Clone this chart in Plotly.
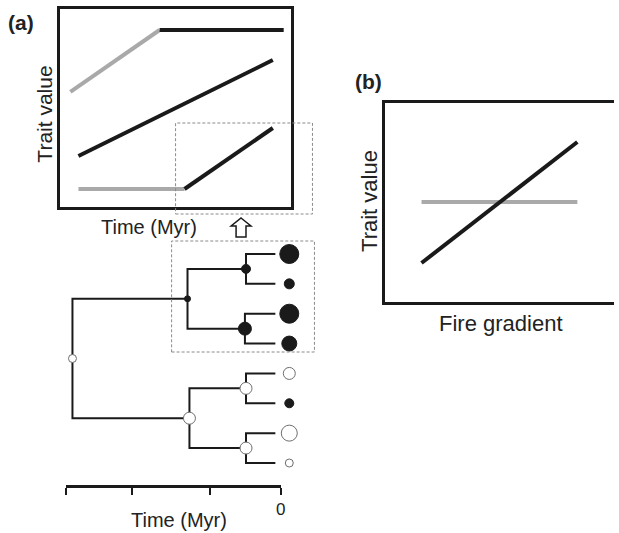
import plotly.graph_objects as go

W, H = 619, 533
FONT = "Liberation Sans, Arial, Helvetica, sans-serif"
BLACK = "#1a1a1a"
GRAY = "#a9a9a9"

# ---------------- data: panel (a) trait trajectories (time, trait value) ----------------
a_gray_upper_time = [0.47, 4.33]
a_gray_upper_trait = [5.81, 8.94]
a_black_upper_time = [4.33, 9.70]
a_black_upper_trait = [8.94, 8.94]
a_black_mid_time = [0.82, 9.23]
a_black_mid_trait = [2.58, 7.42]
a_gray_lower_time = [0.82, 5.41]
a_gray_lower_trait = [0.91, 0.91]
a_black_lower_time = [5.41, 9.23]
a_black_lower_trait = [0.91, 3.99]

# ---------------- data: panel (b) trait vs fire gradient ----------------
b_fire = [1.6, 8.4]
b_black_trait = [1.96, 8.04]
b_gray_trait = [5.03, 5.03]

# ---------------- data: phylogeny ----------------
node_names = ["root", "U", "L", "S1", "S2", "S3", "S4"]
node_parent = [None, "root", "root", "U", "U", "L", "L"]
node_time = [-9.72, -4.35, -4.26, -1.62, -1.67, -1.62, -1.62]
node_trait = [8, 6, 12, 9, 13, 12, 12]
node_state = [0, 1, 0, 1, 1, 0, 0]

tip_names = ["t1", "t2", "t3", "t4", "t5", "t6", "t7", "t8"]
tip_parent = ["S1", "S1", "S2", "S2", "S3", "S3", "S4", "S4"]
tip_rank = [8, 7, 6, 5, 4, 3, 2, 1]
tip_trait = [19, 10, 19, 15, 12, 9, 16, 8]
tip_state = [1, 1, 1, 1, 0, 1, 0, 0]
tip_time = -0.25
tip_marker_time = 0.40

time_ticks = [-10, -6.94, -3.29, 0]
time_tick_labels = ["", "", "", "0"]


def X(px):
    return px / W


def Y(py):
    return 1 - py / H


fig = go.Figure()

# ---- panel (a) lines ----
for t, v, c in [
    (a_gray_upper_time, a_gray_upper_trait, GRAY),
    (a_black_upper_time, a_black_upper_trait, BLACK),
    (a_black_mid_time, a_black_mid_trait, BLACK),
    (a_gray_lower_time, a_gray_lower_trait, GRAY),
    (a_black_lower_time, a_black_lower_trait, BLACK),
]:
    fig.add_trace(go.Scatter(x=t, y=v, mode="lines", line=dict(color=c, width=4),
                             xaxis="x", yaxis="y", showlegend=False, hoverinfo="skip"))

# ---- tree ----
pos = {}
for n, t in zip(tip_names, tip_rank):
    pos[n] = [tip_time, t]
ntime = dict(zip(node_names, node_time))
children = {n: [] for n in node_names}
for n, p in zip(tip_names, tip_parent):
    children[p].append(n)
for n, p in zip(node_names, node_parent):
    if p is not None:
        children[p].append(n)


def ypos(n):
    if n in pos:
        return pos[n][1]
    ys = [ypos(c) for c in children[n]]
    pos[n] = [ntime[n], sum(ys) / len(ys)]
    return pos[n][1]


ypos("root")

ex, ey = [], []
for child, par in list(zip(tip_names, tip_parent)) + [(n, p) for n, p in zip(node_names, node_parent) if p]:
    px_, py_ = pos[par]
    cx, cy = pos[child]
    ex += [px_, px_, cx, None]
    ey += [py_, cy, cy, None]
fig.add_trace(go.Scatter(x=ex, y=ey, mode="lines", line=dict(color=BLACK, width=2),
                         xaxis="x2", yaxis="y2", showlegend=False, hoverinfo="skip"))


def mk(states, sizes):
    return dict(
        size=sizes, opacity=1,
        color=[BLACK if s else "white" for s in states],
        line=dict(color=[BLACK if s else "#6e6e6e" for s in states], width=1),
    )


fig.add_trace(go.Scatter(x=[pos[n][0] for n in node_names], y=[pos[n][1] for n in node_names],
                         mode="markers", marker=mk(node_state, node_trait),
                         xaxis="x2", yaxis="y2", showlegend=False, hoverinfo="skip"))
fig.add_trace(go.Scatter(x=[tip_marker_time] * len(tip_names), y=tip_rank,
                         mode="markers", marker=mk(tip_state, tip_trait),
                         xaxis="x2", yaxis="y2", showlegend=False, hoverinfo="skip"))

# time scale bar (own axis sharing the tree's vertical axis)
fig.add_trace(go.Scatter(x=[], y=[], mode="markers", xaxis="x4", yaxis="y2",
                         showlegend=False, hoverinfo="skip"))

# ---- panel (b) ----
fig.add_trace(go.Scatter(x=b_fire, y=b_gray_trait, mode="lines", line=dict(color=GRAY, width=4),
                         xaxis="x3", yaxis="y3", showlegend=False, hoverinfo="skip"))
fig.add_trace(go.Scatter(x=b_fire, y=b_black_trait, mode="lines", line=dict(color=BLACK, width=4),
                         xaxis="x3", yaxis="y3", showlegend=False, hoverinfo="skip"))

box = dict(showline=True, linecolor=BLACK, linewidth=3, showticklabels=False, ticks="",
           showgrid=False, zeroline=False, fixedrange=True)

# tree axis: 0 Myr at px 283, -10 Myr at px 67 -> 21.6 px per Myr; extended to px 305 for tip symbols
tree_right_px = 305
tree_range_right = (tree_right_px - 283) / 21.6

fig.update_layout(
    width=W, height=H, margin=dict(l=0, r=0, t=0, b=0),
    paper_bgcolor="white", plot_bgcolor="rgba(0,0,0,0)",
    font=dict(family=FONT, color="#222222"),
    xaxis=dict(domain=[X(60), X(293)], range=[0, 10], mirror=True, anchor="y", **box),
    yaxis=dict(domain=[Y(207), Y(9)], range=[0, 10], mirror=True, anchor="x", **box),
    xaxis2=dict(domain=[X(67), X(tree_right_px)], range=[-10, tree_range_right], anchor="y2",
                visible=False, fixedrange=True),
    yaxis2=dict(domain=[Y(485), Y(240)], range=[0.263, 8.469], anchor="x2", visible=False,
                fixedrange=True),
    xaxis4=dict(domain=[X(67), X(283)], range=[-10, 0], anchor="y2", showline=True,
                linecolor=BLACK, linewidth=3, ticks="outside", ticklen=7, tickwidth=1.5,
                tickcolor=BLACK, tickvals=time_ticks, ticktext=time_tick_labels,
                tickfont=dict(size=17, family=FONT, color="#222222"),
                showgrid=False, zeroline=False, fixedrange=True),
    xaxis3=dict(domain=[X(388), 1], range=[0, 10], mirror=True, anchor="y3", **box),
    yaxis3=dict(domain=[Y(302), Y(103)], range=[0, 10], mirror=False, anchor="x3", **box),
)

ann = [
    dict(text="<b>(a)</b>", x=X(21), y=Y(22), size=21),
    dict(text="<b>(b)</b>", x=X(372), y=Y(81), size=21),
    dict(text="Trait value", x=X(44), y=Y(114), size=21, angle=-90),
    dict(text="Time (Myr)", x=X(150), y=Y(227), size=20),
    dict(text="Time (Myr)", x=X(180), y=Y(520), size=20),
    dict(text="Trait value", x=X(372), y=Y(201), size=22, angle=-90),
    dict(text="Fire gradient", x=X(505), y=Y(323), size=22),
]
for a in ann:
    fig.add_annotation(text=a["text"], x=a["x"], y=a["y"], xref="paper", yref="paper",
                       showarrow=False, textangle=a.get("angle", 0),
                       font=dict(size=a["size"], family=FONT, color="#222222"),
                       xanchor="center", yanchor="middle")

# dashed highlight boxes
for x0, y0, x1, y1 in [(177, 123, 315, 214), (173, 241, 317, 352)]:
    fig.add_shape(type="rect", xref="paper", yref="paper", x0=X(x0), x1=X(x1), y0=Y(y1), y1=Y(y0),
                  line=dict(color="#8a8a8a", width=1, dash="3px,2px"), layer="above")

# hollow up arrow
pts = [(243, 218), (253, 226), (248, 226), (248, 237), (238, 237), (238, 226), (233, 226)]
path = "M " + " L ".join(f"{X(px):.5f},{Y(py):.5f}" for px, py in pts) + " Z"
fig.add_shape(type="path", xref="paper", yref="paper", path=path,
              line=dict(color=BLACK, width=1.5), fillcolor="white")

fig.write_html("out.html", config={"displayModeBar": False},
               post_script="document.body.style.margin='0';")
